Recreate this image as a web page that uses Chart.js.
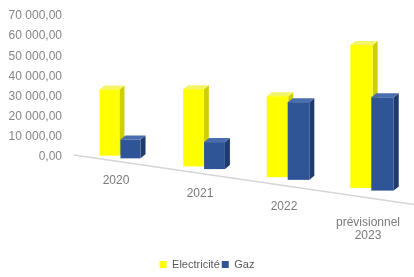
<!DOCTYPE html>
<html>
<head>
<meta charset="utf-8">
<script src="https://cdn.jsdelivr.net/npm/chart.js@4.4.1/dist/chart.umd.min.js"></script>
<style>
  html, body { margin: 0; background: #fff; }
</style>
</head>
<body>
<canvas id="chart" width="414" height="277"></canvas>
<script>
const years = ["2020", "2021", "2022", ["prévisionnel", "2023"]];
const electricite = [33500, 36000, 35000, 57500];
const gaz = [9500, 12500, 33000, 37000];

// front / side / top colours of each series
const faces = [
  { front: "#ffff00", side: "#cfcf00", top: "#f4f46a" },
  { front: "#2f5597", side: "#1f3b6e", top: "#4a6db0" }
];

const frNumber = v => {
  const [a, b] = v.toFixed(2).split(".");
  return a.replace(/\B(?=(\d{3})+(?!\d))/g, " ") + "," + b;
};

// Excel-like 3D look: floor tilts down to the right and bars grow a little
const perspective = {
  id: "perspective",
  beforeDatasetsDraw(chart) {
    const ctx = chart.ctx;
    const xs = chart.scales.x;
    const area = chart.chartArea;
    const xa = xs.getPixelForValue(0);
    const xb = xs.getPixelForValue(years.length - 1);
    const zero = chart.scales.y.getPixelForValue(0);
    const slope = 0.128, grow = 0.25, dx = 5, dy = 4;
    const floorAt = px => zero + slope * (px - xa);
    const growAt = px => 1 + grow * (px - xa) / (xb - xa);

    ctx.save();
    ctx.strokeStyle = "#d6d6d6";
    ctx.lineWidth = 1.5;
    ctx.beginPath();
    ctx.moveTo(area.left - 4, floorAt(area.left - 4) + 4);
    ctx.lineTo(area.right, floorAt(area.right) + 4 + 0.02 * (area.right - xa));
    ctx.stroke();

    years.forEach((_, i) => {
      chart.data.datasets.forEach((ds, d) => {
        const bar = chart.getDatasetMeta(d).data[i];
        const f = growAt(bar.x);
        const w = bar.width * (1 + 0.12 * (f - 1) / grow);
        const bottom = floorAt(bar.x);
        const top = bottom - (bar.base - bar.y) * f;
        const l = bar.x - w / 2, r = l + w;
        const c = faces[d];

        ctx.fillStyle = c.side;
        ctx.beginPath();
        ctx.moveTo(r, top); ctx.lineTo(r + dx, top - dy);
        ctx.lineTo(r + dx, bottom - dy); ctx.lineTo(r, bottom);
        ctx.closePath(); ctx.fill();

        ctx.fillStyle = c.top;
        ctx.beginPath();
        ctx.moveTo(l, top); ctx.lineTo(l + dx, top - dy);
        ctx.lineTo(r + dx, top - dy); ctx.lineTo(r, top);
        ctx.closePath(); ctx.fill();

        ctx.fillStyle = c.front;
        ctx.fillRect(l, top, w, bottom - top);
      });
    });

    // category labels follow the tilted floor
    ctx.fillStyle = "#7a7a7a";
    ctx.font = "12px 'Liberation Sans', Arial, sans-serif";
    ctx.textAlign = "center";
    ctx.textBaseline = "middle";
    years.forEach((lab, i) => {
      const px = xs.getPixelForValue(i);
      const lines = [].concat(lab);
      const y0 = floorAt(px) + 24 * growAt(px) + (lines.length - 1) * 3;
      lines.forEach((t, k) => ctx.fillText(t, px - 4, y0 + k * 13));
    });
    ctx.restore();
    return false;
  }
};

new Chart(document.getElementById("chart"), {
  type: "bar",
  data: {
    labels: years,
    datasets: [
      { label: "Electricité", data: electricite, backgroundColor: faces[0].front, borderWidth: 0 },
      { label: "Gaz", data: gaz, backgroundColor: faces[1].front, borderWidth: 0 }
    ]
  },
  options: {
    responsive: false,
    animation: false,
    events: [],
    layout: { padding: { top: 16, left: 0, right: 0, bottom: -3 } },
    categoryPercentage: 0.5,
    barPercentage: 0.95,
    scales: {
      x: {
        grid: { display: false },
        border: { display: false },
        ticks: { display: false },
        afterFit: s => { s.height = 100; }
      },
      y: {
        min: 0,
        max: 70000,
        grid: { display: true, color: "transparent", drawTicks: true, tickLength: 12 },
        border: { display: false },
        ticks: {
          stepSize: 10000,
          padding: 4,
          color: "#858585",
          font: { family: "'Liberation Sans', Arial, sans-serif", size: 12 },
          callback: v => frNumber(v)
        },
        afterFit: s => { s.width = 78; }
      }
    },
    plugins: {
      tooltip: { enabled: false },
      legend: {
        position: "bottom",
        labels: {
          boxWidth: 7,
          boxHeight: 7,
          padding: 2,
          color: "#595959",
          font: { family: "'Liberation Sans', Arial, sans-serif", size: 11 }
        }
      }
    }
  },
  plugins: [perspective]
});
</script>
</body>
</html>
